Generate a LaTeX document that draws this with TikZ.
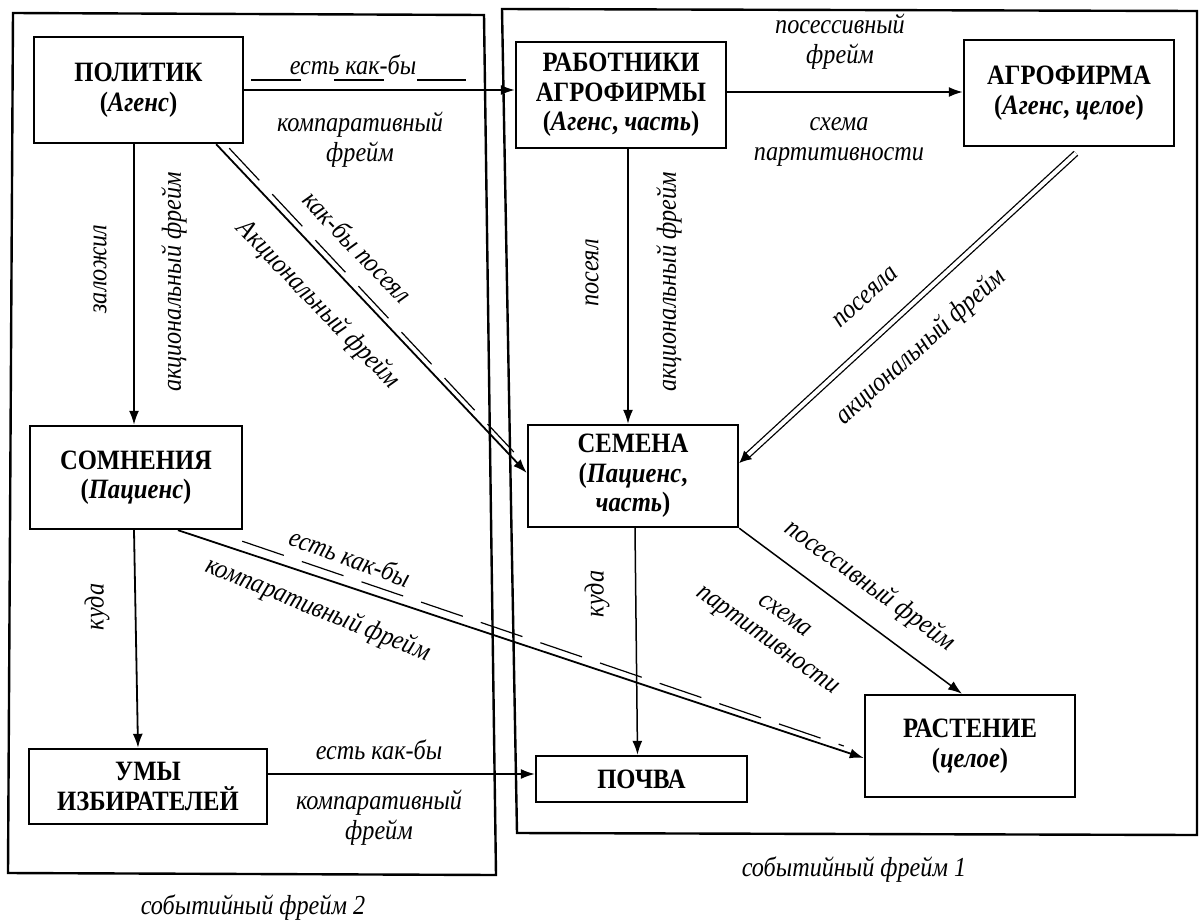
\documentclass[tikz,border=0pt]{standalone}
\usepackage{fontspec}
\setmainfont{Liberation Serif}[FakeStretch=0.88]
\usetikzlibrary{arrows.meta,calc}
\begin{document}
\begin{tikzpicture}[x=1pt,y=-1pt,
  box/.style={draw,line width=2.4pt,rectangle,inner sep=0pt,align=center,
    font=\fontsize{28}{29.5}\selectfont\bfseries},
  lbl/.style={font=\fontsize{27.5}{30}\selectfont\itshape,align=center,inner sep=0pt},
  conn/.style={line width=1.8pt,-{Latex[length=14pt,width=10pt]}},
  dbl/.style={double,double distance=4pt,line width=1.3pt,-{Latex[length=12pt,width=12pt]}},
  dashln/.style={line width=1.2pt,dash pattern=on 44pt off 19pt},
  framebox/.style={line width=2.4pt,line join=miter}
]
\useasboundingbox (0,0) rectangle (1200,922);

% event frames
\draw[framebox] (13,13) -- (484,15) -- (496,875) -- (8,873) -- cycle;
\draw[framebox] (502,9) -- (1197,11) -- (1197,835) -- (517,833) -- cycle;

% nodes
\node[box,minimum width=209pt,minimum height=106pt] (pol) at (138.5,90) {ПОЛИТИК\\(\textit{Агенс})};
\node[box,minimum width=210pt,minimum height=106pt] (rab) at (621,95) {РАБОТНИКИ\\АГРОФИРМЫ\\(\textit{Агенс}, \textit{часть})};
\node[box,minimum width=210pt,minimum height=106pt] (agro) at (1069,93) {АГРОФИРМА\\(\textit{Агенс}, \textit{целое})};
\node[box,minimum width=212pt,minimum height=103pt] (som) at (136,477.5) {СОМНЕНИЯ\\(\textit{Пациенс})};
\node[box,minimum width=210pt,minimum height=102pt] (sem) at (633,476) {СЕМЕНА\\(\textit{Пациенс},\\\textit{часть})};
\node[box,minimum width=238pt,minimum height=75pt] (umy) at (148,786.5) {УМЫ\\ИЗБИРАТЕЛЕЙ};
\node[box,minimum width=211pt,minimum height=46pt] (poch) at (641.5,779) {ПОЧВА};
\node[box,minimum width=210pt,minimum height=102pt] (rast) at (970,746) {РАСТЕНИЕ\\(\textit{целое})};

% connectors
\draw[conn] (pol.east) -- (pol.east -| rab.west);
\draw[conn] ([yshift=3pt]rab.east) -- ([yshift=3pt]rab.east -| agro.west);
\draw[conn] ([xshift=-4.5pt]pol.south) -- ([xshift=-4.5pt]pol.south |- som.north);
\draw[conn] ([xshift=-2pt]som.south) -- ([xshift=-10pt]umy.north);
\draw[conn,line width=1.5pt] ([xshift=7pt]rab.south) -- ([xshift=-5pt]sem.north);
\draw[conn,line width=1.5pt] ([xshift=2pt]sem.south) -- ([xshift=-4pt]poch.north);
\draw[conn] ([xshift=-28pt]pol.south east) -- ([yshift=3pt]sem.west);
\draw[conn] ([xshift=42pt]som.south) -- ([yshift=-12pt]rast.west);
\draw[conn,line width=1.5pt] (sem.south east) -- ([xshift=-8pt]rast.north);
\draw[conn,line width=1.5pt] ([yshift=12.5pt]umy.east) -- ([yshift=12.5pt]umy.east -| poch.west);
\draw[dbl] ([xshift=7pt,yshift=-6pt]agro.south) -- ([yshift=13pt]sem.east);

% dashed "as if" lines
\draw[dashln,dash pattern=on 50pt off 33pt] ([shift={(7pt,10pt)}]pol.east) -- ([shift={(-49pt,15pt)}]rab.west);
\draw[dashln] ([shift={(-15pt,-4pt)}]pol.south east) -- ([shift={(-13pt,24pt)}]sem.west);
\draw[dashln] ([shift={(-1pt,-11pt)}]som.south east) -- ([shift={(-20pt,0pt)}]rast.west);

% labels
\node[lbl] (l1) at (353,65) {есть как-бы};
\node[lbl] (l2) at (360,140) {компаративный\\фрейм};
\node[lbl] (l3) at (840,42) {посессивный\\фрейм};
\node[lbl] (l4) at (839,142) {схема\\партитивности};
\node[lbl,rotate=90] (l5) at (100,269) {заложил};
\node[lbl,rotate=90] (l6) at (174,282) {акциональный фрейм};
\node[lbl,rotate=-46] (l7) at (358,247) {как-бы посеял};
\node[lbl,rotate=-46] (l8) at (318,305) {Акциональный фрейм};
\node[lbl,rotate=90] (l9) at (592,273) {посеял};
\node[lbl,rotate=90] (l10) at (669,282) {акциональный фрейм};
\node[lbl,rotate=42] (l11) at (866,297) {посеяла};
\node[lbl,rotate=42] (l12) at (921,347) {акциональный фрейм};
\node[lbl,rotate=-20] (l13) at (350,557) {есть как-бы};
\node[lbl,rotate=-22] (l14) at (318,610) {компаративный фрейм};
\node[lbl,rotate=90] (l15) at (97,607) {куда};
\node[lbl,rotate=90] (l16) at (597,594) {куда};
\node[lbl,rotate=-36] (l17) at (870,586) {посессивный фрейм};
\node[lbl,rotate=-36] (l18) at (775,630) {схема\\партитивности};
\node[lbl] (l19) at (379,750) {есть как-бы};
\node[lbl] (l20) at (379,818) {компаративный\\фрейм};
\node[lbl] (f1) at (854,870) {событийный фрейм 1};
\node[lbl] (f2) at (253,908) {событийный фрейм 2};
\end{tikzpicture}
\end{document}
